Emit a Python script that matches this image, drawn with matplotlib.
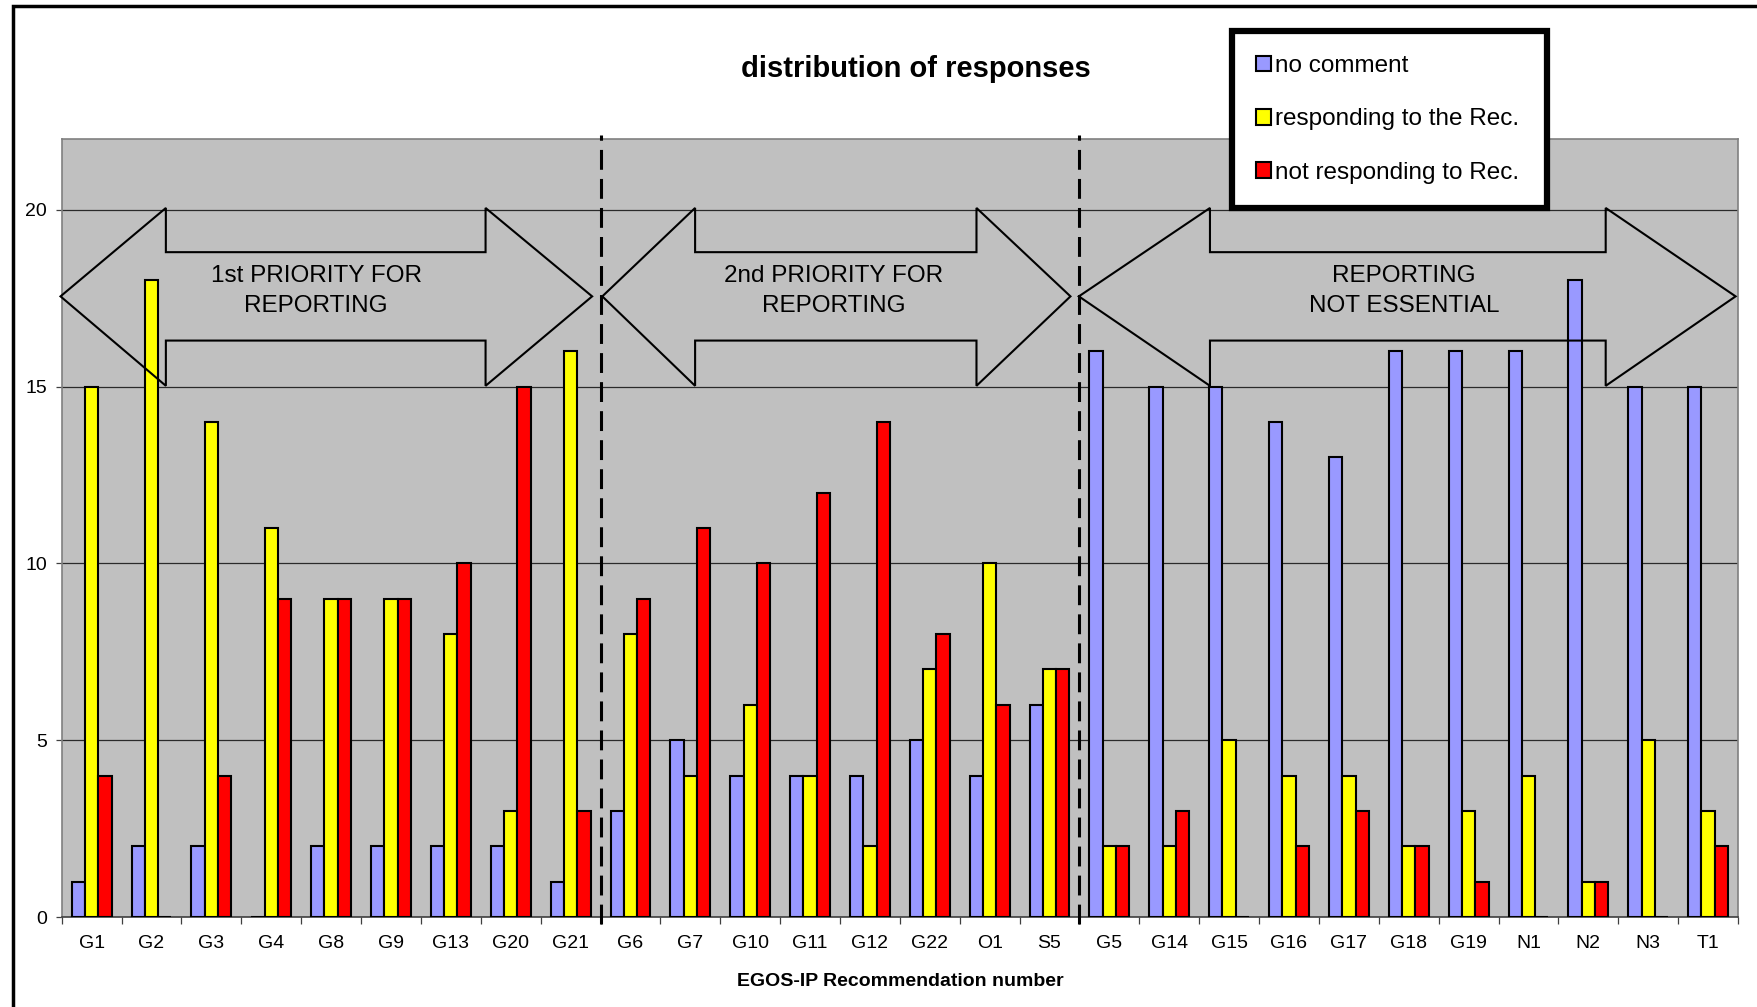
import matplotlib
matplotlib.use('Agg')
import matplotlib.pyplot as plt
import numpy as np
from matplotlib.patches import Polygon, Rectangle

plt.rcParams['font.family'] = ['Liberation Sans', 'DejaVu Sans']

# data
categories = ["G1", "G2", "G3", "G4", "G8", "G9", "G13", "G20", "G21",
              "G6", "G7", "G10", "G11", "G12", "G22", "O1", "S5",
              "G5", "G14", "G15", "G16", "G17", "G18", "G19", "N1", "N2", "N3", "T1"]
no_comment = [1, 2, 2, 0, 2, 2, 2, 2, 1,
              3, 5, 4, 4, 4, 5, 4, 6,
              16, 15, 15, 14, 13, 16, 16, 16, 18, 15, 15]
responding = [15, 18, 14, 11, 9, 9, 8, 3, 16,
              8, 4, 6, 4, 2, 7, 10, 7,
              2, 2, 5, 4, 4, 2, 3, 4, 1, 5, 3]
not_responding = [4, 0, 4, 9, 9, 9, 10, 15, 3,
                  9, 11, 10, 12, 14, 8, 6, 7,
                  2, 3, 0, 2, 3, 2, 1, 0, 1, 0, 2]
series_labels = ["no comment", "responding to the Rec.", "not responding to Rec."]
series_colors = ["#9999FF", "#FFFF00", "#FF0000"]
group_sizes = [9, 8, 11]
group_texts = ["1st PRIORITY FOR\nREPORTING", "2nd PRIORITY FOR\nREPORTING", "REPORTING\nNOT ESSENTIAL"]

W, H = 1758, 1007
fig = plt.figure(figsize=(W / 100, H / 100), dpi=100)
ax = fig.add_axes([61.7 / W, 1 - 917 / H, (1738 - 61.7) / W, (917 - 139) / H])
ax.set_facecolor("#C0C0C0")

x = np.arange(len(categories))
width = 0.222
handles = []
for i, (vals, col, lab) in enumerate(zip([no_comment, responding, not_responding], series_colors, series_labels)):
    b = ax.bar(x + (i - 1) * width, vals, width, color=col, edgecolor="black",
               linewidth=1.5, label=lab, zorder=3)
    handles.append(b)

ax.set_xlim(-0.5, len(categories) - 0.5)
ax.set_ylim(0, 22)
ax.set_yticks([0, 5, 10, 15, 20])
ax.yaxis.grid(True, color="#2a2a2a", linewidth=0.9, zorder=1)
ax.set_axisbelow(True)
ax.tick_params(axis="y", labelsize=14, length=4.5, width=0.9, pad=6, color="#404040")

ax.set_xticks(x)
ax.set_xticklabels(categories)
ax.set_xticks(np.arange(-0.5, len(categories)), minor=True)
ax.tick_params(axis="x", which="major", length=0, labelsize=14, pad=13)
ax.tick_params(axis="x", which="minor", length=5, width=0.9, color="#404040")

for s in ["top", "right", "left"]:
    ax.spines[s].set_color("#808080")
    ax.spines[s].set_linewidth(1.2)
ax.spines["bottom"].set_color("#404040")
ax.spines["bottom"].set_linewidth(1.2)

# dashed separators between priority groups
bounds = np.cumsum(group_sizes)[:-1] - 0.5
for b in bounds:
    ax.plot([b, b], [-0.2, 22.12], color="black", linewidth=2.2,
            linestyle=(0, (6.5, 3)), clip_on=False, zorder=5)

# double headed block arrows
arrow_x = [(-0.52, 1.24, 6.58, 8.36), (8.53, 10.08, 14.78, 16.35), (16.49, 18.68, 25.29, 27.46)]
text_x = [3.75, 12.4, 21.92]
for (x0, x1, x2, x3), tx, txt in zip(arrow_x, text_x, group_texts):
    pts = [(x0, 17.55), (x1, 20.05), (x1, 18.8), (x2, 18.8), (x2, 20.05), (x3, 17.55),
           (x2, 15.02), (x2, 16.3), (x1, 16.3), (x1, 15.02)]
    ax.add_patch(Polygon(pts, closed=True, fill=False, edgecolor="black",
                         linewidth=1.5, zorder=4, clip_on=False))
    ax.text(tx, 17.7, txt, ha="center", va="center", fontsize=17.5,
            linespacing=1.5, zorder=6)

fig.text(916 / W, 1 - 69 / H, "distribution of responses", ha="center", va="center",
         fontsize=21, fontweight="bold")
fig.text(900 / W, 1 - 981 / H, "EGOS-IP Recommendation number", ha="center", va="center",
         fontsize=14, fontweight="bold")

leg = ax.legend(handles=handles, loc="upper left",
                bbox_to_anchor=(1232 / W, 1 - 207 / H, (1547 - 1232) / W, (207 - 31) / H),
                bbox_transform=fig.transFigure, mode="expand",
                fontsize=17.5, handlelength=0.6, handleheight=0.6, handletextpad=0.15,
                labelspacing=1.28, borderpad=1.0, borderaxespad=0, fancybox=False,
                framealpha=1, edgecolor="black")
leg.get_frame().set_linewidth(4.5)
leg.set_zorder(10)

# outer frame of the chart
fig.patches.append(Rectangle((13 / W, -0.1), 1.2, 1.1 - 6 / H, transform=fig.transFigure,
                             fill=False, edgecolor="black", linewidth=2.5))

plt.savefig("out.png", dpi=100)
plt.close()
